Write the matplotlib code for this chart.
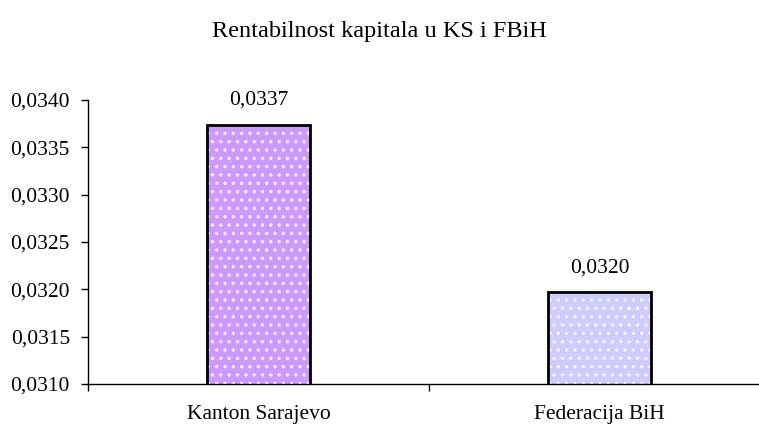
import matplotlib
matplotlib.use("Agg")
import matplotlib.pyplot as plt
from matplotlib.ticker import FuncFormatter, FixedLocator

categories = ["Kanton Sarajevo", "Federacija BiH"]
values = [0.03374, 0.03197]
value_labels = ["0,0337", "0,0320"]
y_ticks = [0.0310, 0.0315, 0.0320, 0.0325, 0.0330, 0.0335, 0.0340]
title = "Rentabilnost kapitala u KS i FBiH"

colors = ["#CC99FF", "#CCCCFF"]

plt.rcParams['font.family'] = ['Liberation Serif', 'DejaVu Serif']
plt.rcParams['hatch.linewidth'] = 1.2

fig = plt.figure(figsize=(7.59, 4.26), dpi=100)
W, H = 759, 426
ax = fig.add_axes([88 / W, (H - 384) / H, 682 / W, (384 - 100) / H])

x = list(range(len(categories)))
ax.bar(x, values, width=0.30, color=colors, edgecolor=(1, 1, 1, 0.85), linewidth=0,
       hatch="..", zorder=2)
ax.bar(x, values, width=0.30, fill=False, edgecolor="black", linewidth=2, zorder=3)

for xi, v, lab in zip(x, values, value_labels):
    ax.annotate(lab, (xi, v), xytext=(0, 17.5), textcoords="offset points",
                ha="center", va="center", fontsize=15.5)

ax.set_xlim(-0.5, 1.5)
ax.set_ylim(0.0310, 0.0340)
ax.yaxis.set_major_locator(FixedLocator(y_ticks))
ax.yaxis.set_major_formatter(FuncFormatter(lambda v, p: f"{v:.4f}".replace(".", ",")))
ax.set_xticks(x)
ax.set_xticklabels(categories)
ax.set_xticks([-0.5, 0.5, 1.5], minor=True)
ax.tick_params(axis="x", which="major", length=0, pad=15, labelsize=15.5)
ax.tick_params(axis="x", which="minor", length=5, width=1, direction="out")
ax.tick_params(axis="y", length=5, width=1, direction="out", pad=8, labelsize=15.5)
for s in ["top", "right"]:
    ax.spines[s].set_visible(False)
ax.spines["left"].set_linewidth(1)
ax.spines["bottom"].set_linewidth(1)

fig.text(0.5, 1 - 32 / H, title, ha="center", va="center", fontsize=17.5)

fig.savefig("out.png", dpi=100)
